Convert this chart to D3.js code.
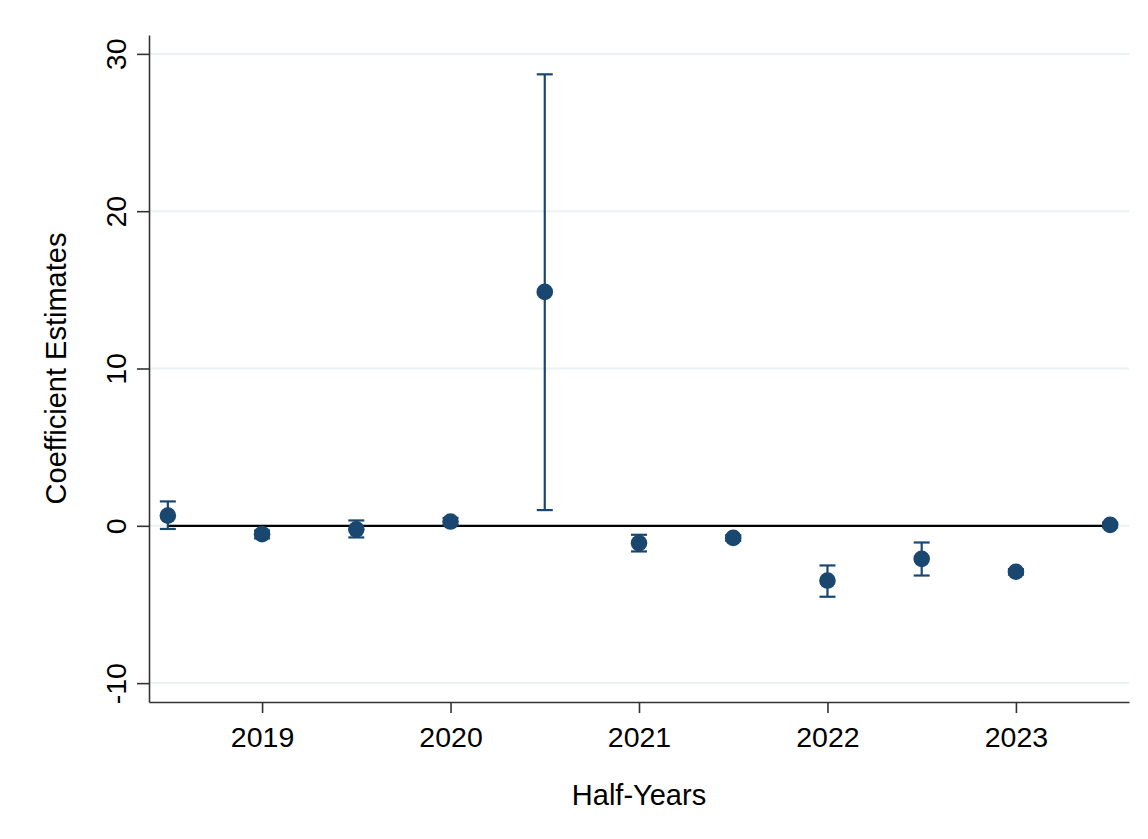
<!DOCTYPE html>
<html>
<head>
<meta charset="utf-8">
<script src="https://cdn.jsdelivr.net/npm/d3@7"></script>
<style>
  body { margin: 0; background: #fff; }
  svg { display: block; font-family: "Liberation Sans", Arial, sans-serif; }
</style>
</head>
<body>
<div id="place"></div>
<script>
// half-year periods and estimates
const periods = [2018.5, 2019, 2019.5, 2020, 2020.5, 2021, 2021.5, 2022, 2022.5, 2023, 2023.5];
const estimates = [0.65, -0.53, -0.22, 0.27, 14.87, -1.1, -0.77, -3.48, -2.1, -2.92, 0.06];
const ciLow = [-0.2, -0.8, -0.74, 0.05, 1.0, -1.63, -0.95, -4.51, -3.16, -3.1, -0.1];
const ciHigh = [1.55, -0.3, 0.34, 0.5, 28.7, -0.57, -0.6, -2.52, -1.06, -2.75, 0.2];
const xTicks = [2019, 2020, 2021, 2022, 2023];
const yTicks = [-10, 0, 10, 20, 30];

(function() {
	const W = 1148, H = 839;
	const margin = { top: 35, right: 19, bottom: 137, left: 149 };
	const navy = "#1a476f";

	let svg = d3.select("#place").append("svg")
		.attr('width', W)
		.attr('height', H);

	let x = d3.scaleLinear().domain([2018.4, 2023.6]).range([margin.left, W - margin.right]);
	let y = d3.scaleLinear().domain([-11.2, 31.2]).range([H - margin.bottom, margin.top]);

	// gridlines
	svg.append('g').selectAll('line')
		.data(yTicks)
	  .enter().append('line')
		.attr('x1', x.range()[0]).attr('x2', x.range()[1])
		.attr('y1', d => y(d)).attr('y2', d => y(d))
		.style('stroke', '#eaf2f3')
		.style('stroke-width', 2);

	// zero reference line across the periods
	svg.append('line')
		.attr('x1', x(periods[0])).attr('x2', x(periods[periods.length - 1]))
		.attr('y1', y(0)).attr('y2', y(0))
		.style('stroke', '#000')
		.style('stroke-width', 2.2);

	// y axis (plain hyphen for negatives, like the original)
	let yAxis = svg.append('g')
		.attr('transform', 'translate(' + margin.left + ',0)')
		.call(d3.axisLeft(y).tickValues(yTicks).tickSize(12).tickSizeOuter(0).tickFormat(d => String(d)));
	yAxis.select('.domain').style('stroke', '#333').style('stroke-width', 1.6);
	yAxis.selectAll('.tick line').style('stroke', '#333').style('stroke-width', 1.6);
	yAxis.selectAll('.tick text')
		.attr('x', 0).attr('y', 0).attr('dy', 0)
		.attr('transform', 'translate(-23,0) rotate(-90)')
		.style('text-anchor', 'middle')
		.style('font-size', '28.5px')
		.style('fill', '#000');

	// x axis
	let xAxis = svg.append('g')
		.attr('transform', 'translate(0,' + (H - margin.bottom) + ')')
		.call(d3.axisBottom(x).tickValues(xTicks).tickSize(11).tickSizeOuter(0).tickFormat(d3.format('d')));
	xAxis.select('.domain').style('stroke', '#333').style('stroke-width', 1.6);
	xAxis.selectAll('.tick line').style('stroke', '#333').style('stroke-width', 1.6);
	xAxis.selectAll('.tick text')
		.attr('y', 45).attr('dy', 0)
		.style('font-size', '28.5px')
		.style('fill', '#000');

	// axis titles
	svg.append('text')
		.attr('transform', 'translate(66,' + ((margin.top + H - margin.bottom) / 2) + ') rotate(-90)')
		.style('text-anchor', 'middle')
		.style('font-size', '29px')
		.text('Coefficient Estimates');

	svg.append('text')
		.attr('x', (x.range()[0] + x.range()[1]) / 2)
		.attr('y', 805)
		.style('text-anchor', 'middle')
		.style('font-size', '29px')
		.text('Half-Years');

	const rows = periods.map((p, i) => ({ p: p, est: estimates[i], lo: ciLow[i], hi: ciHigh[i] }));

	// confidence intervals
	let ci = svg.append('g').selectAll('g')
		.data(rows)
	  .enter().append('g')
		.style('stroke', navy)
		.style('stroke-width', 2.2);
	ci.append('line')
		.attr('x1', d => x(d.p)).attr('x2', d => x(d.p))
		.attr('y1', d => y(d.lo)).attr('y2', d => y(d.hi));
	ci.append('line')
		.attr('x1', d => x(d.p) - 8).attr('x2', d => x(d.p) + 8)
		.attr('y1', d => y(d.hi)).attr('y2', d => y(d.hi));
	ci.append('line')
		.attr('x1', d => x(d.p) - 8).attr('x2', d => x(d.p) + 8)
		.attr('y1', d => y(d.lo)).attr('y2', d => y(d.lo));

	// point estimates
	svg.append('g').selectAll('circle')
		.data(rows)
	  .enter().append('circle')
		.attr('cx', d => x(d.p))
		.attr('cy', d => y(d.est))
		.attr('r', 8.3)
		.style('fill', navy);
})()
</script>
</body>
</html>
